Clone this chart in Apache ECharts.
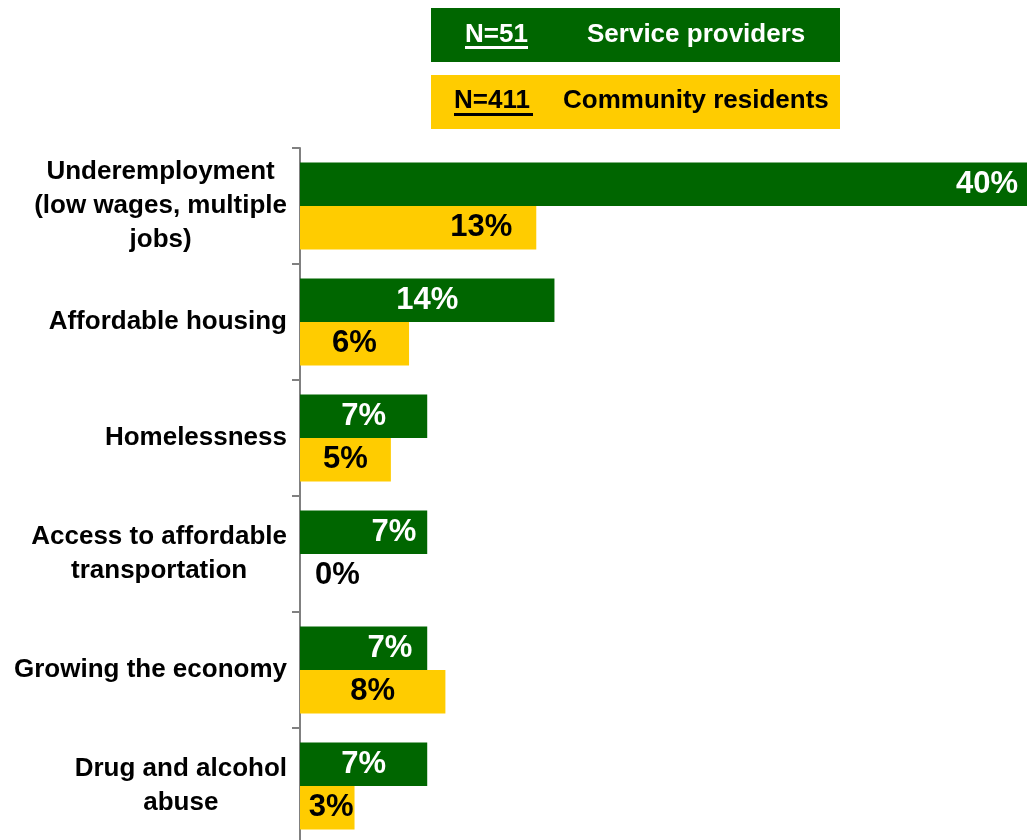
<!DOCTYPE html>
<html>
<head>
<meta charset="utf-8">
<script src="https://cdn.jsdelivr.net/npm/echarts@6/dist/echarts.min.js"></script>
<style>
  html, body { margin: 0; padding: 0; background: #ffffff; }
  #chart { width: 1027px; height: 840px; }
</style>
</head>
<body>
<div id="chart"></div>
<script>
// Issue categories, top to bottom
const categories = [
  'Underemployment\n(low wages, multiple\njobs)',
  'Affordable housing',
  'Homelessness',
  'Access to affordable\ntransportation',
  'Growing the economy',
  'Drug and alcohol\nabuse'
];

// Percent of respondents naming each issue
const serviceProviders = [40, 14, 7, 7, 7, 7];
const communityResidents = [13, 6, 5, 0, 8, 3];

// Legend headings
const providerN = 'N=51';
const providerName = 'Service providers';
const residentN = 'N=411';
const residentName = 'Community residents';

const GREEN = '#006600';
const YELLOW = '#FFCC00';
const FONT = 'Liberation Sans, Arial, Helvetica, sans-serif';

// Where each value label sits on its bar: [position, distance]
const providerLabelPlace = [
  ['insideRight', 9], ['inside', 0], ['inside', 0],
  ['insideRight', 11], ['insideRight', 15], ['inside', 0]
];
const residentLabelPlace = [
  ['insideRight', 24], ['inside', 0], ['inside', 0],
  ['right', 15], ['inside', 0], ['insideRight', 1]
];

function buildData(values, places, color) {
  return values.map((v, i) => ({
    value: v,
    label: {
      position: places[i][0],
      distance: places[i][1],
      color: color
    }
  }));
}

const chart = echarts.init(document.getElementById('chart'), null, { renderer: 'canvas' });

const labelBase = {
  show: true,
  formatter: p => p.value + '%',
  fontFamily: FONT,
  fontWeight: 'bold',
  fontSize: 31
};

chart.setOption({
  animation: false,
  backgroundColor: '#ffffff',
  textStyle: { fontFamily: FONT },
  grid: { left: 300, right: 0, top: 148, height: 696, containLabel: false, outerBoundsMode: 'none' },
  xAxis: {
    type: 'value',
    min: 0,
    max: 40,
    show: false
  },
  yAxis: {
    type: 'category',
    data: categories,
    inverse: true,
    axisLine: { show: true, lineStyle: { color: '#808080', width: 2 } },
    axisTick: { show: true, length: 8, alignWithLabel: false, lineStyle: { color: '#808080', width: 2 } },
    axisLabel: {
      margin: 13,
      fontFamily: FONT,
      formatter: v => v.split('\n').map(s => '{c|' + s + '}').join('\n'),
      rich: {
        c: {
          align: 'center',
          fontFamily: FONT,
          fontWeight: 'bold',
          fontSize: 26,
          lineHeight: 34,
          color: '#000000'
        }
      }
    },
    splitLine: { show: false }
  },
  series: [
    {
      name: providerName,
      type: 'bar',
      barGap: '0%',
      barCategoryGap: '25%',
      itemStyle: { color: GREEN },
      label: labelBase,
      data: buildData(serviceProviders, providerLabelPlace, '#ffffff')
    },
    {
      name: residentName,
      type: 'bar',
      barGap: '0%',
      barCategoryGap: '25%',
      itemStyle: { color: YELLOW },
      label: labelBase,
      data: buildData(communityResidents, residentLabelPlace, '#000000')
    }
  ],
  graphic: [
    { type: 'rect', shape: { x: 431, y: 8, width: 409, height: 54 }, style: { fill: GREEN } },
    { type: 'text', x: 465, y: 35, style: { text: providerN, fill: '#ffffff', fontFamily: FONT, fontWeight: 'bold', fontSize: 26, verticalAlign: 'middle' } },
    { type: 'rect', shape: { x: 465, y: 46, width: 63, height: 3 }, style: { fill: '#ffffff' } },
    { type: 'text', x: 587, y: 35, style: { text: providerName, fill: '#ffffff', fontFamily: FONT, fontWeight: 'bold', fontSize: 26, verticalAlign: 'middle' } },

    { type: 'rect', shape: { x: 431, y: 75, width: 409, height: 54 }, style: { fill: YELLOW } },
    { type: 'text', x: 454, y: 101, style: { text: residentN, fill: '#000000', fontFamily: FONT, fontWeight: 'bold', fontSize: 26, verticalAlign: 'middle' } },
    { type: 'rect', shape: { x: 454, y: 113, width: 79, height: 3 }, style: { fill: '#000000' } },
    { type: 'text', x: 563, y: 101, style: { text: residentName, fill: '#000000', fontFamily: FONT, fontWeight: 'bold', fontSize: 26, verticalAlign: 'middle' } }
  ]
});
</script>
</body>
</html>
